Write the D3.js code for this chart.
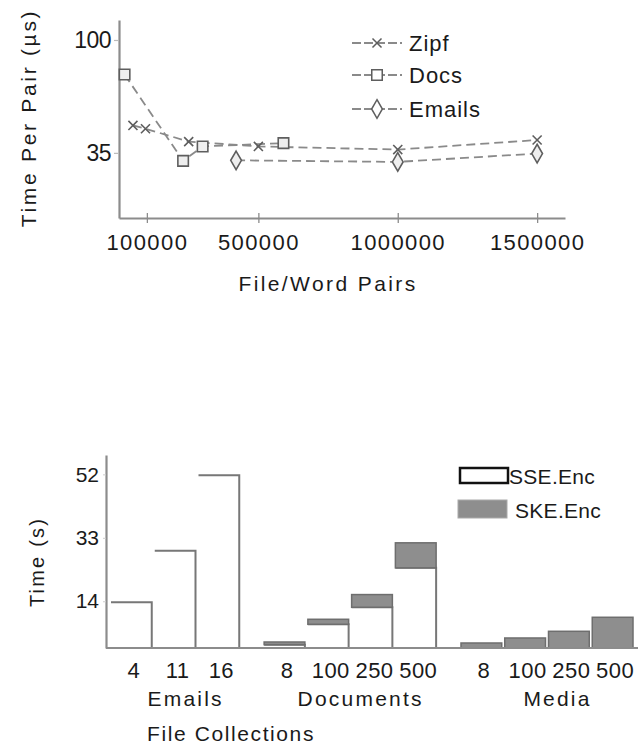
<!DOCTYPE html>
<html><head><meta charset="utf-8">
<script src="https://cdn.jsdelivr.net/npm/d3@7"></script>
<style>
body{margin:0;background:#fff}
svg{display:block}
text{font-family:"Liberation Sans",Arial,sans-serif;fill:#1a1a1a}
</style>
</head><body><svg id="c" width="641" height="746"></svg>
<script>
// ---------- Top chart data ----------
const zipfX = [50000, 95000, 250000, 500000, 1000000, 1500000];
const zipfY = [50.8, 48.9, 41.5, 38.7, 36.9, 42.4];
const docsX = [20000, 230000, 300000, 590000];
const docsY = [80.1, 30.4, 38.7, 40.6];
const emailsX = [420000, 1000000, 1500000];
const emailsY = [30.7, 29.8, 34.6];
const lineXTicks = [100000, 500000, 1000000, 1500000];
const lineYTicks = [35, 100];
const lineSeries = ["Zipf", "Docs", "Emails"];

// ---------- Bottom chart data ----------
const groups = ["Emails", "Documents", "Media"];
const groupSizes = [[4, 11, 16], [8, 100, 250, 500], [8, 100, 250, 500]];
const sseValues = [[13.7, 29.1, 51.7], [1.0, 7.1, 12.2, 24.0], [0, 0, 0, 0]];
const skeValues = [[0, 0, 0], [0.8, 1.5, 3.8, 7.5], [1.5, 3.0, 5.0, 9.2]];
const barYTicks = [14, 33, 52];
const barSeries = ["SSE.Enc", "SKE.Enc"];

const svg = d3.select("#c");
const axisGray = "#8c8c8c";
const lineGray = "#8a8a8a";

// ================= TOP CHART =================
const x1 = d3.scaleLinear().domain([0, 1600000]).range([119, 565]);
const y1 = d3.scaleLinear().domain([-2.5, 111.5]).range([218, 20]);

const gx1 = svg.append("g").attr("transform", `translate(0,${y1.range()[0]})`)
  .call(d3.axisBottom(x1).tickValues(lineXTicks).tickSize(5).tickSizeOuter(0).tickFormat(d3.format("d")));
gx1.select(".domain").attr("stroke", axisGray).attr("stroke-width", 2.2);
gx1.selectAll(".tick line").attr("stroke", axisGray).attr("stroke-width", 1.3).attr("y1", -5).attr("y2", 5);
gx1.selectAll(".tick text").attr("y", 16).attr("font-size", 22).style("letter-spacing", "1.4px").attr("fill", "#1a1a1a");

const gy1 = svg.append("g").attr("transform", `translate(${x1.range()[0]},0)`)
  .call(d3.axisLeft(y1).tickValues(lineYTicks).tickSize(5).tickSizeOuter(0).tickPadding(3));
gy1.select(".domain").attr("stroke", axisGray).attr("stroke-width", 2.2);
gy1.selectAll(".tick line").attr("stroke", "#bbb").attr("stroke-width", 1.2);
gy1.selectAll(".tick text").attr("font-size", 23).style("letter-spacing", "-0.5px").attr("fill", "#1a1a1a");

// axis titles
svg.append("text").attr("transform", "translate(36,118) rotate(-90)")
  .attr("text-anchor", "middle").attr("font-size", 21).style("letter-spacing", "2.7px")
  .text("Time Per Pair (µs)");
svg.append("text").attr("x", 328).attr("y", 291)
  .attr("text-anchor", "middle").attr("font-size", 21).style("letter-spacing", "2.4px")
  .text("File/Word Pairs");

const seriesData = [
  {name: lineSeries[0], pts: zipfX.map((d, i) => [d, zipfY[i]]), sym: d3.symbolTimes || d3.symbolCross, size: 55},
  {name: lineSeries[1], pts: docsX.map((d, i) => [d, docsY[i]]), sym: d3.symbolSquare, size: 110},
  {name: lineSeries[2], pts: emailsX.map((d, i) => [d, emailsY[i]]), sym: d3.symbolDiamond, size: 100}
];
const line = d3.line().x(d => x1(d[0])).y(d => y1(d[1]));

seriesData.forEach(s => {
  svg.append("path").attr("d", line(s.pts)).attr("fill", "none")
    .attr("stroke", lineGray).attr("stroke-width", 1.8).attr("stroke-dasharray", "9,5");
});
seriesData.forEach(s => {
  svg.append("g").selectAll("path").data(s.pts).join("path")
    .attr("transform", d => `translate(${x1(d[0])},${y1(d[1])})`)
    .attr("d", d3.symbol().type(s.sym).size(s.size))
    .attr("fill", s.name === "Zipf" ? "none" : "#eee")
    .attr("stroke", "#5e5e5e").attr("stroke-width", 1.6);
});

// legend top
const legTop = svg.append("g");
const legRows = [43, 75, 109];
seriesData.forEach((s, i) => {
  const yy = legRows[i];
  legTop.append("line").attr("x1", 352).attr("x2", 402).attr("y1", yy).attr("y2", yy)
    .attr("stroke", lineGray).attr("stroke-width", 1.8).attr("stroke-dasharray", "9,3");
  legTop.append("path").attr("transform", `translate(377,${yy})`)
    .attr("d", d3.symbol().type(s.sym).size(s.size))
    .attr("fill", s.name === "Zipf" ? "none" : "#fff")
    .attr("stroke", "#5e5e5e").attr("stroke-width", 1.5);
  legTop.append("text").attr("x", 409).attr("y", yy).attr("dy", "0.36em")
    .attr("font-size", 22).style("letter-spacing", "1px").text(s.name);
});

// ================= BOTTOM CHART =================
const bars = [];
let idx = 0;
groups.forEach((g, gi) => {
  groupSizes[gi].forEach((sz, i) => {
    bars.push({group: g, gi, label: sz, pos: idx + gi * 0.5, sse: sseValues[gi][i], ske: skeValues[gi][i]});
    idx++;
  });
});
const xb = d3.scaleLinear().domain([0, idx + (groups.length - 1) * 0.5]).range([108, 633]);
const yb = d3.scaleLinear().domain([0, 57.8]).range([648, 455]);

// bars
const pad = 3;
bars.forEach(b => {
  const xl = xb(b.pos) + pad, xr = xb(b.pos + 1);
  if (b.sse > 0) {
    svg.append("rect").attr("x", xl).attr("y", yb(b.sse)).attr("width", xr - xl).attr("height", yb(0) - yb(b.sse))
      .attr("fill", "#fff");
    svg.append("path").attr("d", `M${xl},${yb(b.sse)}H${xr}V${yb(0)}`)
      .attr("fill", "none").attr("stroke", "#777").attr("stroke-width", 2);
  }
  if (b.ske > 0) {
    const top = yb(b.sse + b.ske), bot = yb(b.sse);
    svg.append("rect").attr("x", xl).attr("y", top).attr("width", xr - xl).attr("height", bot - top)
      .attr("fill", "#8e8e8e").attr("stroke", "#6e6e6e").attr("stroke-width", 1.5);
  }
});

// axes
svg.append("line").attr("x1", xb.range()[0] - 2).attr("x2", xb.range()[1] + 5)
  .attr("y1", yb(0)).attr("y2", yb(0)).attr("stroke", axisGray).attr("stroke-width", 2.2);
const gyb = svg.append("g").attr("transform", `translate(${xb.range()[0] - 2},0)`)
  .call(d3.axisLeft(yb).tickValues(barYTicks).tickSize(3).tickSizeOuter(0).tickPadding(4));
gyb.select(".domain").attr("stroke", axisGray).attr("stroke-width", 2.2);
gyb.selectAll(".tick line").attr("stroke", "#ccc");
gyb.selectAll(".tick text").attr("font-size", 21).attr("fill", "#1a1a1a");

// tick labels
svg.append("g").selectAll("text").data(bars).join("text")
  .attr("x", d => (xb(d.pos) + xb(d.pos + 1)) / 2 + 4).attr("y", 670).attr("dy", "0.36em")
  .attr("text-anchor", "middle").attr("font-size", 22).style("letter-spacing", "0.5px")
  .text(d => d.label);

// group labels
groups.forEach((g, gi) => {
  const gb = bars.filter(b => b.gi === gi);
  const cx = (xb(gb[0].pos) + xb(gb[gb.length - 1].pos + 1)) / 2 + 12;
  svg.append("text").attr("x", cx).attr("y", 698).attr("dy", "0.36em")
    .attr("text-anchor", "middle").attr("font-size", 21).style("letter-spacing", "2.2px").text(g);
});

svg.append("text").attr("x", 147).attr("y", 733).attr("dy", "0.36em")
  .attr("font-size", 21).style("letter-spacing", "1.6px").text("File Collections");
svg.append("text").attr("transform", "translate(44,562) rotate(-90)")
  .attr("text-anchor", "middle").attr("font-size", 20).style("letter-spacing", "2.2px").text("Time (s)");

// legend bottom
svg.append("rect").attr("x", 460).attr("y", 468).attr("width", 48).attr("height", 15)
  .attr("fill", "#fff").attr("stroke", "#111").attr("stroke-width", 2.5);
svg.append("text").attr("x", 509).attr("y", 476).attr("dy", "0.36em")
  .attr("font-size", 21).style("letter-spacing", "0.3px").text(barSeries[0]);
svg.append("rect").attr("x", 458).attr("y", 500).attr("width", 49).attr("height", 18)
  .attr("fill", "#8e8e8e").attr("stroke", "#aaa").attr("stroke-width", 1);
svg.append("text").attr("x", 515).attr("y", 510).attr("dy", "0.36em")
  .attr("font-size", 21).style("letter-spacing", "0.3px").text(barSeries[1]);
</script>
</body></html>
